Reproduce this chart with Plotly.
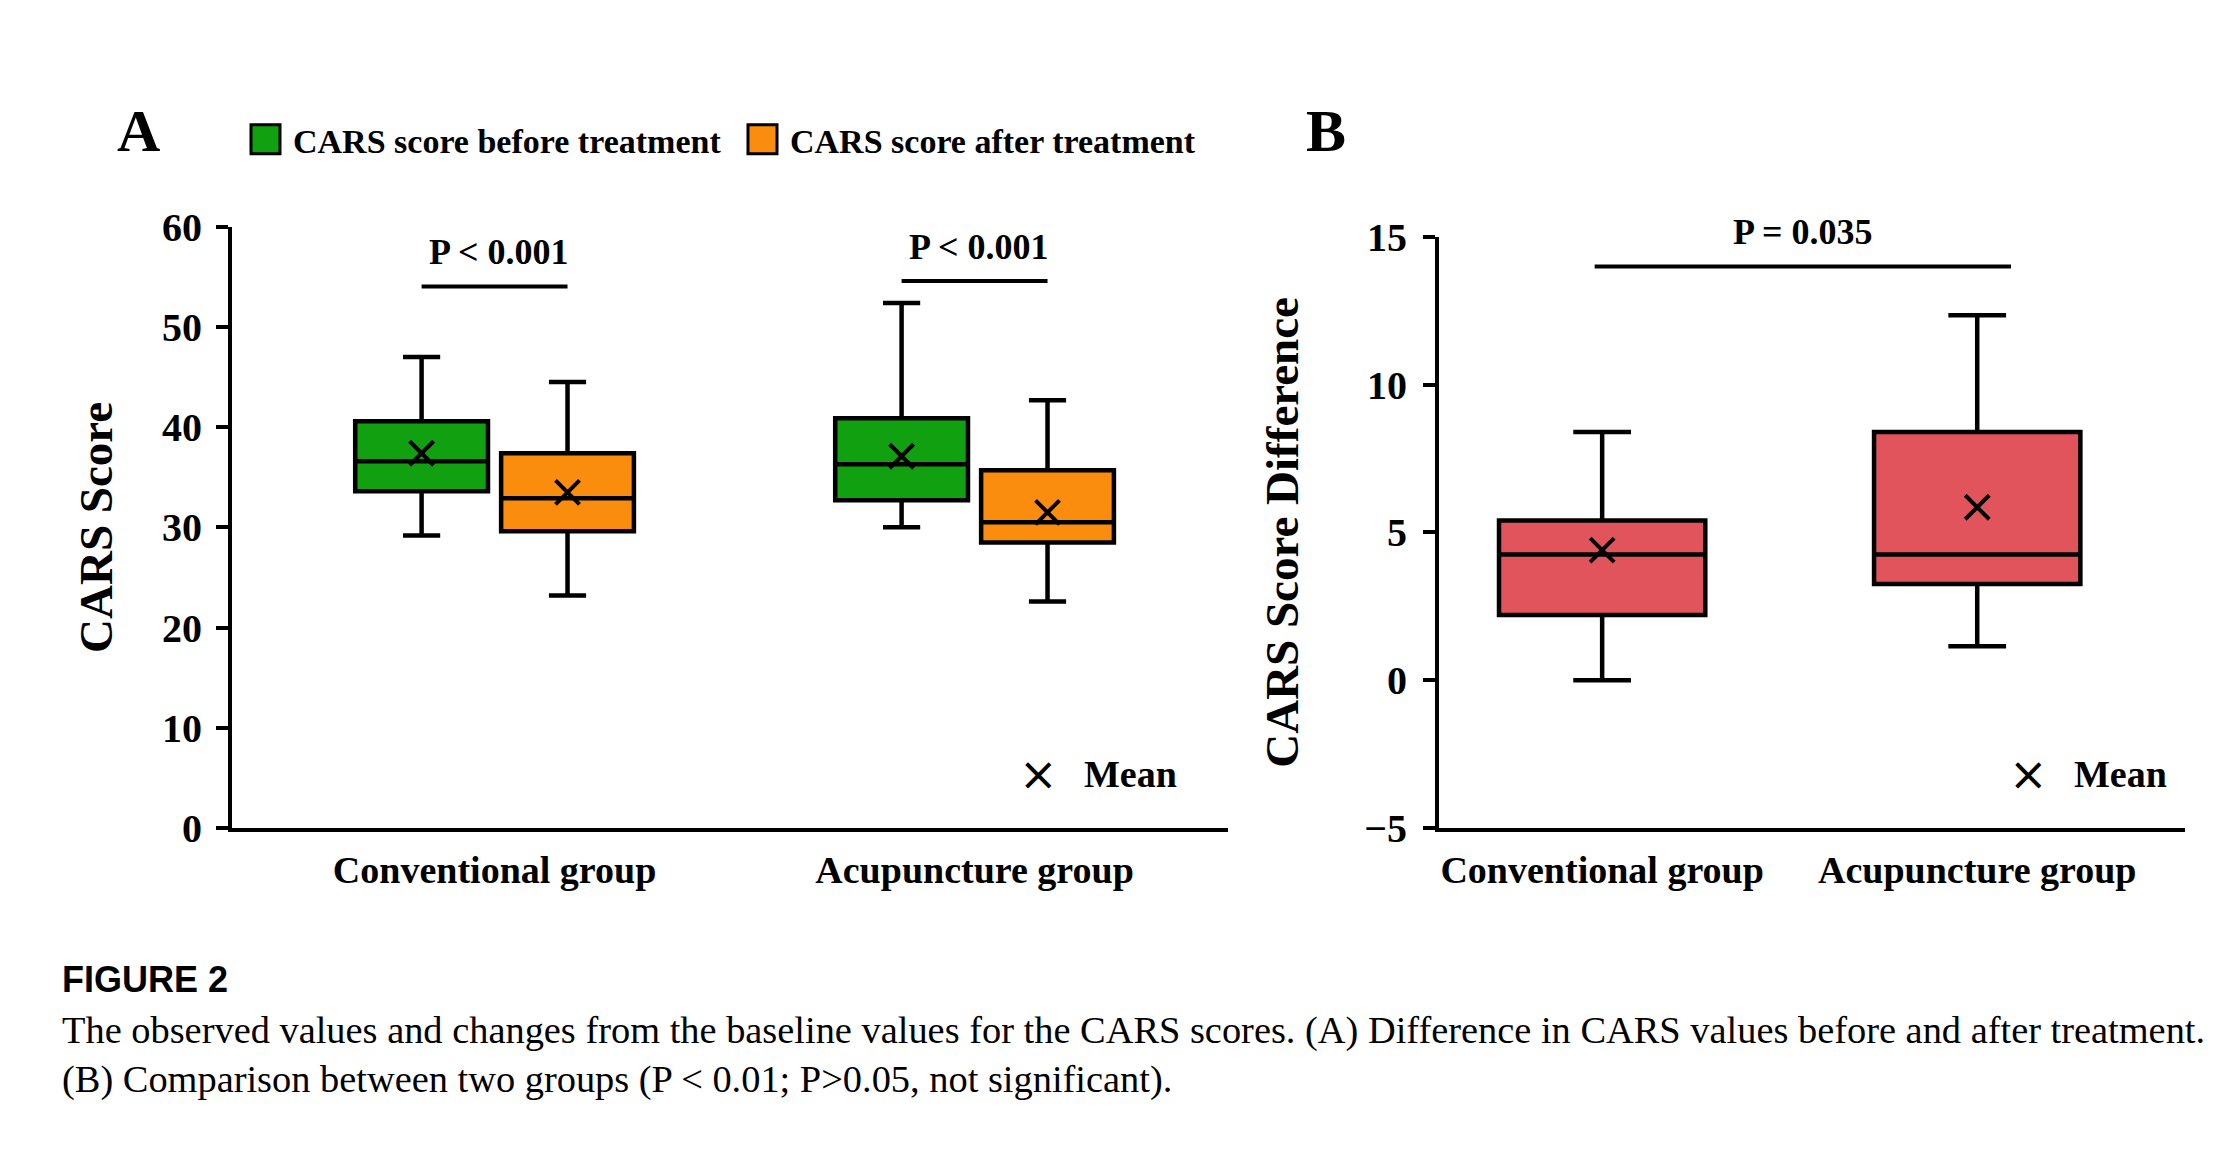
import plotly.graph_objects as go

# Categories
groups = ["Conventional group", "Acupuncture group"]

# Panel A: CARS score before treatment (box statistics)
before_lower = [29.2, 30.0]
before_q1 = [33.6, 32.7]
before_median = [36.6, 36.3]
before_q3 = [40.6, 40.9]
before_upper = [47.0, 52.4]
before_mean = [37.4, 37.1]

# Panel A: CARS score after treatment
after_lower = [23.2, 22.6]
after_q1 = [29.6, 28.5]
after_median = [32.9, 30.5]
after_q3 = [37.4, 35.7]
after_upper = [44.5, 42.7]
after_mean = [33.5, 31.5]

# Panel B: CARS score difference
diff_lower = [0.0, 1.15]
diff_q1 = [2.2, 3.25]
diff_median = [4.25, 4.25]
diff_q3 = [5.4, 8.4]
diff_upper = [8.4, 12.35]
diff_mean = [4.4, 5.85]

# significance brackets
pA_labels = ["P < 0.001", "P < 0.001"]
pA_level = [54.05, 54.6]
pB_label = "P = 0.035"
pB_level = 14.0

FW, FH = 2208, 1116
SERIF = "Liberation Serif"
GREEN = "#10a010"
ORANGE = "#fa8c0e"
RED = "#e2545b"


def px(x):
    # screen pixel -> paper fraction (page margin on the left)
    return (x - 8) / FW


def py(y):
    # the page comes out slightly squeezed vertically, so undo that here
    return 1 - ((y - 31.5) / 0.958) / FH


fig = go.Figure()

box_style = dict(line=dict(color="black", width=4.5), whiskerwidth=0.28,
                 boxpoints=False, hoverinfo="skip", showlegend=False)

fig.add_trace(go.Box(x=groups, lowerfence=before_lower, q1=before_q1, median=before_median,
                     q3=before_q3, upperfence=before_upper, fillcolor=GREEN,
                     name="CARS score before treatment", offsetgroup="before",
                     xaxis="x", yaxis="y", **box_style))
fig.add_trace(go.Box(x=groups, lowerfence=after_lower, q1=after_q1, median=after_median,
                     q3=after_q3, upperfence=after_upper, fillcolor=ORANGE,
                     name="CARS score after treatment", offsetgroup="after",
                     xaxis="x", yaxis="y", **box_style))

mean_marker = dict(symbol="x-thin", size=24, color="black", line=dict(color="black", width=4))
fig.add_trace(go.Scatter(x=groups, y=before_mean, mode="markers", marker=mean_marker,
                         offsetgroup="before", showlegend=False, xaxis="x", yaxis="y"))
fig.add_trace(go.Scatter(x=groups, y=after_mean, mode="markers", marker=mean_marker,
                         offsetgroup="after", showlegend=False, xaxis="x", yaxis="y"))

# Panel B
fig.add_trace(go.Box(x=groups, lowerfence=diff_lower, q1=diff_q1, median=diff_median,
                     q3=diff_q3, upperfence=diff_upper, fillcolor=RED, width=0.55,
                     name="CARS score difference", xaxis="x2", yaxis="y2", **box_style))
fig.add_trace(go.Scatter(x=groups, y=diff_mean, mode="markers", marker=mean_marker,
                         showlegend=False, xaxis="x2", yaxis="y2"))

axis_common = dict(showline=True, linecolor="black", linewidth=4, showgrid=False,
                   zeroline=False)
ytick_font = dict(family=SERIF, size=40, color="black", weight="bold")
xtick_font = dict(family=SERIF, size=38, color="black", weight="bold")
ytitle_font = dict(family=SERIF, size=47, color="black", weight="bold")

fig.update_layout(
    width=FW, height=FH,
    margin=dict(l=0, r=0, t=0, b=0),
    paper_bgcolor="white", plot_bgcolor="white",
    boxmode="group", boxgap=0.392, boxgroupgap=0.09,
    scattermode="group", scattergap=0.392,
    showlegend=False,
    xaxis=dict(domain=[px(232), px(1228)], range=[-0.547, 1.528], anchor="y",
               ticks="", ticklabelstandoff=6, tickfont=xtick_font, **axis_common),
    yaxis=dict(domain=[py(828), py(228)], range=[0, 60], anchor="x", dtick=10,
               ticks="outside", ticklen=12, tickwidth=4, tickcolor="black",
               ticklabelstandoff=6, tickfont=ytick_font,
               title=dict(text="CARS Score", standoff=36, font=ytitle_font),
               **axis_common),
    xaxis2=dict(domain=[px(1439), px(2185)], range=[-0.435, 1.554], anchor="y2",
                ticks="", ticklabelstandoff=6, tickfont=xtick_font, **axis_common),
    yaxis2=dict(domain=[py(828), py(238)], range=[-5, 15], anchor="x2", dtick=5,
                ticks="outside", ticklen=12, tickwidth=4, tickcolor="black",
                ticklabelstandoff=8, tickfont=ytick_font,
                title=dict(text="CARS Score Difference", standoff=52, font=ytitle_font),
                **axis_common),
)

shapes = []
annotations = []

# significance brackets panel A (span the two boxes of each group)
for i, (lab, lev) in enumerate(zip(pA_labels, pA_level)):
    shapes.append(dict(type="line", xref="x", yref="y", x0=i - 0.152, x1=i + 0.152,
                       y0=lev, y1=lev, line=dict(color="black", width=4)))
    annotations.append(dict(xref="x", yref="y", x=i + 0.01, y=lev, text=lab,
                            showarrow=False, yanchor="bottom", yshift=12,
                            font=dict(family=SERIF, size=36, color="black", weight="bold")))

# significance bracket panel B
shapes.append(dict(type="line", xref="x2", yref="y2", x0=-0.02, x1=1.09,
                   y0=pB_level, y1=pB_level, line=dict(color="black", width=4)))
annotations.append(dict(xref="x2", yref="y2", x=0.536, y=pB_level, text=pB_label,
                        showarrow=False, yanchor="bottom", yshift=12,
                        font=dict(family=SERIF, size=36, color="black", weight="bold")))

# manual legend of panel A
legend_items = [("CARS score before treatment", GREEN, 251),
                ("CARS score after treatment", ORANGE, 748)]
for text, color, x0 in legend_items:
    shapes.append(dict(type="rect", xref="paper", yref="paper", x0=px(x0), x1=px(x0 + 29),
                       y0=py(155), y1=py(126), fillcolor=color,
                       line=dict(color="black", width=3)))
    annotations.append(dict(xref="paper", yref="paper", x=px(x0 + 40), y=py(143), text=text,
                            showarrow=False, xanchor="left", yanchor="middle",
                            font=dict(family=SERIF, size=34, color="black", weight="bold")))

# mean keys
for xm in (1038, 2028):
    annotations.append(dict(xref="paper", yref="paper", x=px(xm), y=py(774), text="\u00d7",
                            showarrow=False, xanchor="center", yanchor="middle",
                            font=dict(family="DejaVu Sans", size=46, color="black")))
    annotations.append(dict(xref="paper", yref="paper", x=px(xm + 44), y=py(774), text="Mean",
                            showarrow=False, xanchor="left", yanchor="middle",
                            font=dict(family=SERIF, size=38, color="black", weight="bold")))

# panel letters
for letter, xl in (("A", 138), ("B", 1326)):
    annotations.append(dict(xref="paper", yref="paper", x=px(xl), y=py(132), text=letter,
                            showarrow=False, xanchor="center", yanchor="middle",
                            font=dict(family=SERIF, size=60, color="black", weight="bold")))

# caption
annotations.append(dict(xref="paper", yref="paper", x=px(60), y=py(979), text="FIGURE 2",
                        showarrow=False, xanchor="left", yanchor="middle",
                        font=dict(family="Liberation Sans", size=36, color="black", weight="bold")))
caption = ["The observed values and changes from the baseline values for the CARS scores. "
           "(A) Difference in CARS values before and after treatment.",
           "(B) Comparison between two groups (P < 0.01; P>0.05, not significant)."]
for line, yc in zip(caption, (1030, 1079)):
    annotations.append(dict(xref="paper", yref="paper", x=px(60), y=py(yc), text=line,
                            showarrow=False, xanchor="left", yanchor="middle",
                            font=dict(family=SERIF, size=38.4, color="black")))

fig.update_layout(shapes=shapes, annotations=annotations)

fig.write_html("out.html")
